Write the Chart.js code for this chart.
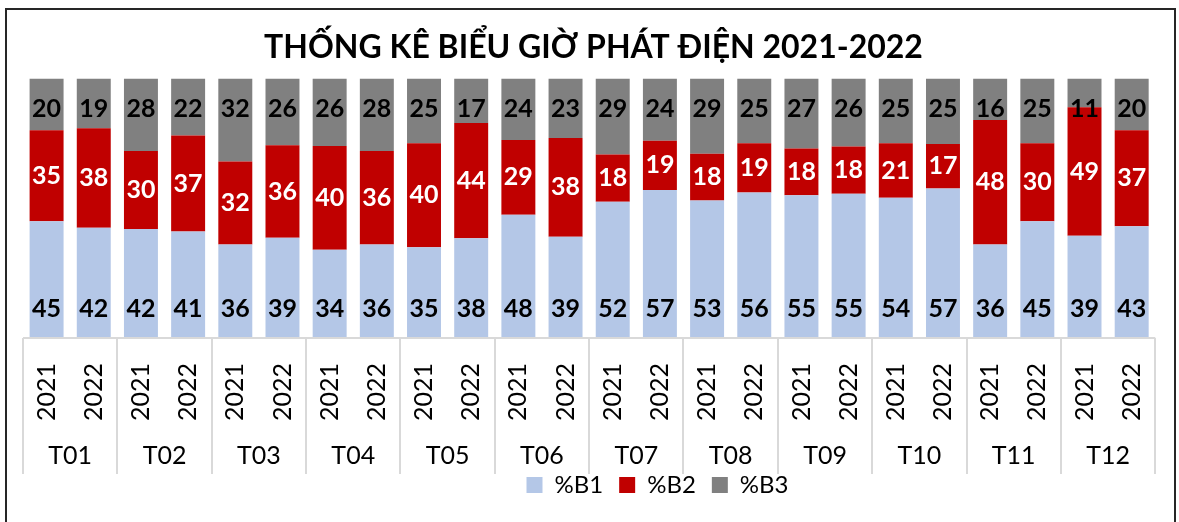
<!DOCTYPE html>
<html>
<head>
<meta charset="utf-8">
<script src="https://cdn.jsdelivr.net/npm/chart.js@4"></script>
<style>
    body { margin: 0; background: #fff; }
    .frame {
        position: absolute; left: 5px; top: 8px;
        width: 1167px; height: 600px;
        border: 2px solid #262626;
    }
    .wrap { position: absolute; left: 0; top: 0; width: 1179px; height: 522px; }
</style>
</head>
<body>
<div class="frame"></div>
<div class="wrap"><canvas id="chart"></canvas></div>
<script>
// chart data
const months = ['T01', 'T02', 'T03', 'T04', 'T05', 'T06', 'T07', 'T08', 'T09', 'T10', 'T11', 'T12'];
const years = ['2021', '2022'];
const b1 = [45, 42, 42, 41, 36, 39, 34, 36, 35, 38, 48, 39, 52, 57, 53, 56, 55, 55, 54, 57, 36, 45, 39, 43];
const b2 = [35, 38, 30, 37, 32, 36, 40, 36, 40, 44, 29, 38, 18, 19, 18, 19, 18, 18, 21, 17, 48, 30, 49, 37];
const b3 = [20, 19, 28, 22, 32, 26, 26, 28, 25, 17, 24, 23, 29, 24, 29, 25, 27, 26, 25, 25, 16, 25, 11, 20];

const FONT = 'Lato, "Noto Sans", sans-serif';
const yearLabels = months.flatMap(() => years);

// 100% stacked: each column scaled to its own total
const totals = b1.map((v, i) => v + b2[i] + b3[i]);
const pct = arr => arr.map((v, i) => v / totals[i] * 100);

const series = [
    { label: '%B1', raw: b1, color: '#b4c7e7', text: '#000' },
    { label: '%B2', raw: b2, color: '#c00000', text: '#fff' },
    { label: '%B3', raw: b3, color: '#808080', text: '#000' }
];

const valueLabels = {
    id: 'valueLabels',
    afterDatasetsDraw(chart) {
        const { ctx, chartArea } = chart;
        ctx.save();
        ctx.font = 'bold 25px ' + FONT;
        ctx.textAlign = 'center';
        ctx.textBaseline = 'middle';
        chart.data.datasets.forEach((ds, d) => {
            chart.getDatasetMeta(d).data.forEach((el, i) => {
                let y;
                if (d === 0) y = chartArea.bottom - 29;
                else if (d === 1) y = (el.y + el.base) / 2;
                else y = chartArea.top + 31;
                ctx.fillStyle = series[d].text;
                ctx.fillText(String(ds.raw[i]), el.x, y);
            });
        });
        ctx.restore();
    }
};

// month separators under the plot, like a two-level category axis
const groupLines = {
    id: 'groupLines',
    afterLayout(chart) {
        // legend sits a bit right of centre and close under the axis in the original
        chart.legend.left += 64;
        chart.legend.right += 64;
        chart.legend.top -= 15;
        chart.legend.bottom -= 15;
    },
    afterDraw(chart) {
        const { ctx, chartArea } = chart;
        const step = (chartArea.right - chartArea.left) / months.length;
        const bottom = chartArea.bottom + 136;
        ctx.save();
        ctx.strokeStyle = '#d9d9d9';
        ctx.lineWidth = 2;
        ctx.beginPath();
        ctx.moveTo(chartArea.left, chartArea.bottom);
        ctx.lineTo(chartArea.right, chartArea.bottom);
        for (let i = 0; i <= months.length; i++) {
            const x = Math.round(chartArea.left + i * step);
            ctx.moveTo(x, chartArea.bottom);
            ctx.lineTo(x, bottom);
        }
        ctx.stroke();
        ctx.restore();
    }
};

new Chart(document.getElementById('chart'), {
    type: 'bar',
    data: {
        labels: yearLabels,
        datasets: series.map(s => ({
            label: s.label,
            data: pct(s.raw),
            raw: s.raw,
            backgroundColor: s.color,
            borderWidth: 0,
            barPercentage: 0.72,
            categoryPercentage: 1
        }))
    },
    options: {
        responsive: true,
        maintainAspectRatio: false,
        animation: false,
        layout: { padding: { left: 23, right: 15, top: 0, bottom: 0 } },
        plugins: {
            title: {
                display: true,
                text: 'THỐNG KÊ BIỂU GIỜ PHÁT ĐIỆN 2021-2022',
                color: '#000',
                font: { family: FONT, size: 32, weight: 'bold', lineHeight: 1.2 },
                padding: { top: 28, bottom: 12 }
            },
            legend: {
                position: 'bottom',
                labels: {
                    color: '#000',
                    font: { family: FONT, size: 24 },
                    boxWidth: 16,
                    boxHeight: 16,
                    padding: 16
                }
            },
            tooltip: { enabled: false }
        },
        scales: {
            x: {
                stacked: true,
                grid: { display: false },
                border: { display: false },
                ticks: {
                    color: '#000',
                    font: { family: FONT, size: 25 },
                    minRotation: 90,
                    maxRotation: 90,
                    autoSkip: false,
                    padding: 17
                },
                afterFit: s => { s.height = 88; }
            },
            x2: {
                type: 'category',
                labels: months,
                position: 'bottom',
                offset: true,
                grid: { display: false },
                border: { display: false },
                ticks: {
                    color: '#000',
                    font: { family: FONT, size: 25 },
                    padding: 7
                },
                afterFit: s => { s.height = 46; }
            },
            y: {
                stacked: true,
                display: false,
                min: 0,
                max: 100
            }
        }
    },
    plugins: [valueLabels, groupLines]
});
</script>
</body>
</html>
